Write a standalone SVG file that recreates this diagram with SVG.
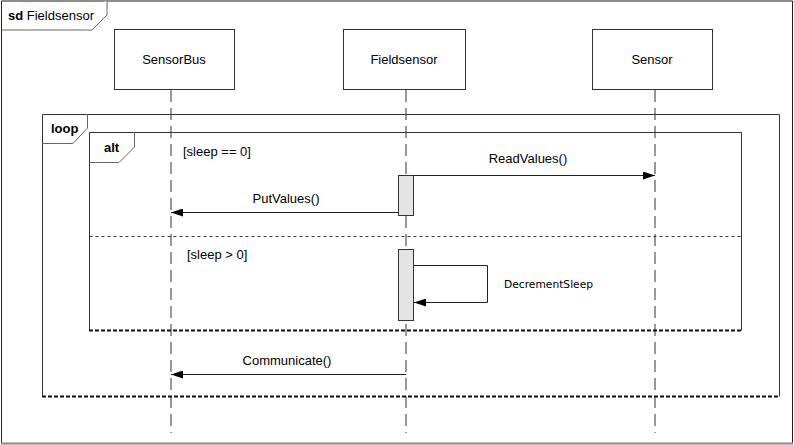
<svg xmlns="http://www.w3.org/2000/svg" width="794" height="445" viewBox="0 0 794 445">
<style>
text{font-family:"Liberation Sans",Arial,sans-serif;font-size:13px;fill:#000}
.b{font-weight:bold}
.box{fill:#fff;stroke:#333;stroke-width:1}
.life{stroke:#333;stroke-width:1;stroke-dasharray:12 6;fill:none}
.act{fill:#e4e4e4;stroke:#333;stroke-width:1}
.msg{stroke:#222;stroke-width:1;fill:none}
.frame{fill:none;stroke:#222;stroke-width:1}
.tab{fill:#fff;stroke:#666;stroke-width:1}
.dash2{stroke:#111;stroke-width:2;stroke-dasharray:4 2;fill:none}
</style>
<defs>
<marker id="ah" viewBox="0 0 12 8" refX="12" refY="4" markerWidth="12" markerHeight="8" orient="auto" markerUnits="userSpaceOnUse"><path d="M0,0 L12,4 L0,8 z" fill="#000"/></marker>
</defs>
<rect x="0" y="0" width="794" height="445" fill="#fff"/>
<g id="frame-sd">
<path d="M1.5,443 L1.5,1 L792.5,1 L792.5,443" fill="none" stroke="#222"/>
<line x1="1" y1="1" x2="792" y2="1" stroke="#888"/>
<line x1="1" y1="443.5" x2="793" y2="443.5" stroke="#888" stroke-width="2"/>
<path class="tab" d="M1.5,30 L92,30 L107,15 L107,1"/>
<text x="8" y="20"><tspan class="b">sd</tspan> Fieldsensor</text>
</g>
<g id="SensorBus">
<rect class="box" x="114.5" y="29.5" width="120" height="60"/>
<text x="174" y="64" text-anchor="middle">SensorBus</text>
</g>
<g id="Fieldsensor">
<rect class="box" x="343.5" y="29.5" width="122" height="60"/>
<text x="404" y="64" text-anchor="middle">Fieldsensor</text>
</g>
<g id="Sensor">
<rect class="box" x="592.5" y="29.5" width="120" height="60"/>
<text x="652" y="64" text-anchor="middle">Sensor</text>
</g>
<g id="lifelines">
<line class="life" x1="171" y1="90" x2="171" y2="433"/>
<line class="life" x1="406" y1="90" x2="406" y2="433"/>
<line class="life" x1="655" y1="90" x2="655" y2="433"/>
</g>
<g id="loop">
<path d="M42.5,396.5 L42.5,114.5 L779.5,114.5 L779.5,396.5" fill="none" stroke="#333"/>
<line class="dash2" x1="42" y1="396.5" x2="780" y2="396.5"/>
<path class="tab" d="M42.5,143.5 L73,143.5 L87.5,128 L87.5,114.5"/>
<text class="b" x="51" y="133">loop</text>
</g>
<g id="alt">
<path d="M89.5,330.5 L89.5,132.5 L741.5,132.5 L741.5,330.5" fill="none" stroke="#333"/>
<line class="dash2" x1="89" y1="330.5" x2="742" y2="330.5"/>
<path class="tab" d="M89.5,162.5 L119,162.5 L134.5,147 L134.5,132.5"/>
<text class="b" x="104" y="152">alt</text>
<line x1="89.5" y1="236.5" x2="741.5" y2="236.5" stroke="#333" stroke-dasharray="3 3"/>
<text x="183" y="156">[sleep == 0]</text>
<text x="187" y="259">[sleep &gt; 0]</text>
</g>
<g id="activations">
<rect class="act" x="398.5" y="175.5" width="15" height="40"/>
<rect class="act" x="398.5" y="249.5" width="15" height="71"/>
</g>
<g id="connectors">
<line class="msg" x1="414" y1="175.5" x2="655" y2="175.5" marker-end="url(#ah)"/>
<text x="528" y="163" text-anchor="middle">ReadValues()</text>
<line class="msg" x1="398" y1="212.5" x2="171" y2="212.5" marker-end="url(#ah)"/>
<text x="286" y="203" text-anchor="middle">PutValues()</text>
<path class="msg" d="M414,265.5 L487.5,265.5 L487.5,302.5 L414,302.5" stroke="#555" marker-end="url(#ah)"/>
<text x="504" y="288" style="font-family:'DejaVu Sans',Verdana,sans-serif;font-size:10.7px">DecrementSleep</text>
<line class="msg" x1="406" y1="374.5" x2="171" y2="374.5" marker-end="url(#ah)"/>
<text x="287" y="365" text-anchor="middle">Communicate()</text>
</g>
</svg>
